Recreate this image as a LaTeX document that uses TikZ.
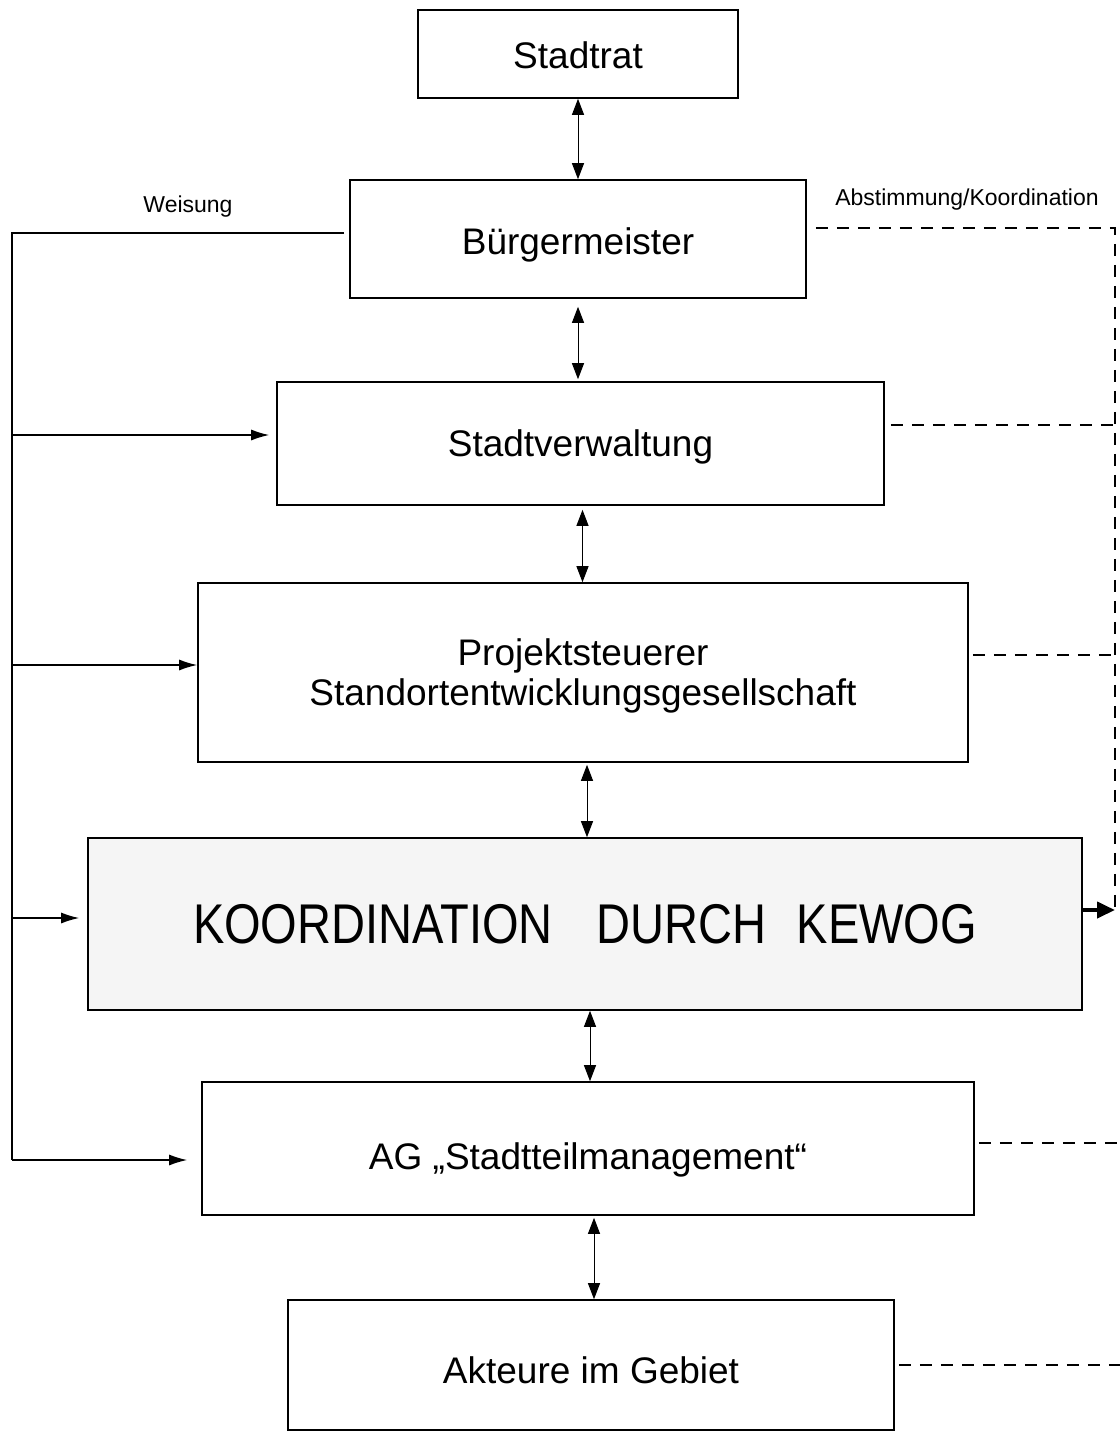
\documentclass[tikz,border=0pt]{standalone}
\usepackage{fontspec}
\setmainfont{Liberation Sans}
\usetikzlibrary{arrows.meta}
\newcommand{\lowr}[2]{\raisebox{-#1}[\height][\depth]{#2}}
\begin{document}
\begin{tikzpicture}[x=0.5pt,y=-0.5pt,
  box/.style={draw,line width=0.8pt,inner sep=0pt,align=center,font=\fontsize{18.5}{20}\selectfont},
  dbl/.style={line width=0.5pt,{Triangle[length=8pt,width=6pt]}-{Triangle[length=8pt,width=6pt]}},
  wline/.style={line width=0.7pt},
  warrow/.style={line width=0.7pt,-{Latex[length=9pt,width=5.5pt]}},
  dline/.style={line width=0.9pt,dash pattern=on 6pt off 4.5pt},
  small/.style={font=\fontsize{11.5}{13}\selectfont,inner sep=0pt}]
\useasboundingbox (0,0) rectangle (1120,1432);
% boxes
\node[box,minimum width=160pt,minimum height=44pt] (stadtrat) at (578,54) {\lowr{0.5pt}{Stadtrat}};
\node[box,minimum width=228pt,minimum height=59pt] (buerger) at (578,239) {\lowr{3pt}{Bürgermeister}};
\node[box,minimum width=303.5pt,minimum height=61.5pt] (verw) at (580.5,443.5) {\lowr{1.5pt}{Stadtverwaltung}};
\node[box,minimum width=385pt,minimum height=89.5pt] (proj) at (583,672.5) {\lowr{2.5pt}{\begin{tabular}{@{}c@{}}Projektsteuerer\\Standortentwicklungsgesellschaft\end{tabular}}};
\node[box,fill=black!4,minimum width=497pt,minimum height=86pt,font=\fontsize{28}{30}\selectfont] (kewog) at (585,924)
  {\scalebox{0.84}[1]{KOORDINATION}\hspace{22pt}\scalebox{0.84}[1]{DURCH}\hspace{15pt}\scalebox{0.84}[1]{KEWOG}};
\node[box,minimum width=386pt,minimum height=66.5pt] (ag) at (588,1148.5) {\lowr{5.5pt}{AG „Stadtteilmanagement“}};
\node[box,minimum width=303pt,minimum height=65pt] (akteure) at (591,1365) {\lowr{2.5pt}{Akteure im Gebiet}};
% labels
\node[small] (weisung) at (188,207) {Weisung};
\node[small] (abst) at (967,200) {Abstimmung/Koordination};
% vertical double arrows
\draw[dbl] (stadtrat.south) -- (stadtrat.south |- buerger.north);
\draw[dbl] ([yshift=-4pt]buerger.south) -- ([yshift=1pt]buerger.south |- verw.north);
\draw[dbl] ([xshift=1pt,yshift=-2pt]verw.south) -- ([xshift=1pt]verw.south |- proj.north);
\draw[dbl] ([xshift=2pt,yshift=-1pt]proj.south) -- ([xshift=2pt]proj.south |- kewog.north);
\draw[dbl] ([xshift=2.5pt]kewog.south) -- ([xshift=2.5pt]kewog.south |- ag.north);
\draw[dbl] ([xshift=3pt,yshift=-1pt]ag.south) -- ([xshift=3pt]ag.south |- akteure.north);
% Weisung lines
\coordinate (wstart) at ([xshift=-2.5pt,yshift=3pt]buerger.west);
\coordinate (lft) at (12,1160);
\draw[wline] (wstart) -- (wstart -| lft) -- (lft);
\coordinate (w1) at ([yshift=4.25pt]verw.west);
\coordinate (w2) at ([yshift=3.75pt]proj.west);
\coordinate (w3) at ([yshift=3pt]kewog.west);
\coordinate (w4) at ([yshift=-5.75pt]ag.west);
\draw[warrow,shorten >=3.5pt] (w1 -| lft) -- (w1);
\draw[warrow] (w2 -| lft) -- (w2);
\draw[warrow,shorten >=4pt] (w3 -| lft) -- (w3);
\draw[warrow,shorten >=7pt] (lft) -- (w4);
% Abstimmung lines
\coordinate (rv) at (1115,910);
\coordinate (redge) at (1120,0);
\coordinate (d0) at ([xshift=4.5pt,yshift=5.5pt]buerger.east);
\coordinate (d1) at ([xshift=3pt,yshift=9.25pt]verw.east);
\coordinate (d2) at ([xshift=2pt,yshift=8.75pt]proj.east);
\coordinate (d3) at ([xshift=2pt,yshift=2.75pt]ag.east);
\coordinate (d4) at ([xshift=2pt]akteure.east);
\draw[dline] (d0) -| (rv);
\draw[dline] (d1) -- (d1 -| rv);
\draw[dline] (d2) -- (d2 -| rv);
\draw[dline] (d3) -- (d3 -| redge);
\draw[dline] (d4) -- (d4 -| redge);
\coordinate (k0) at ([yshift=7pt]kewog.east);
\draw[line width=2pt,-{Triangle[length=9pt,width=8pt]}] (k0) -- (k0 -| rv);
\end{tikzpicture}
\end{document}
